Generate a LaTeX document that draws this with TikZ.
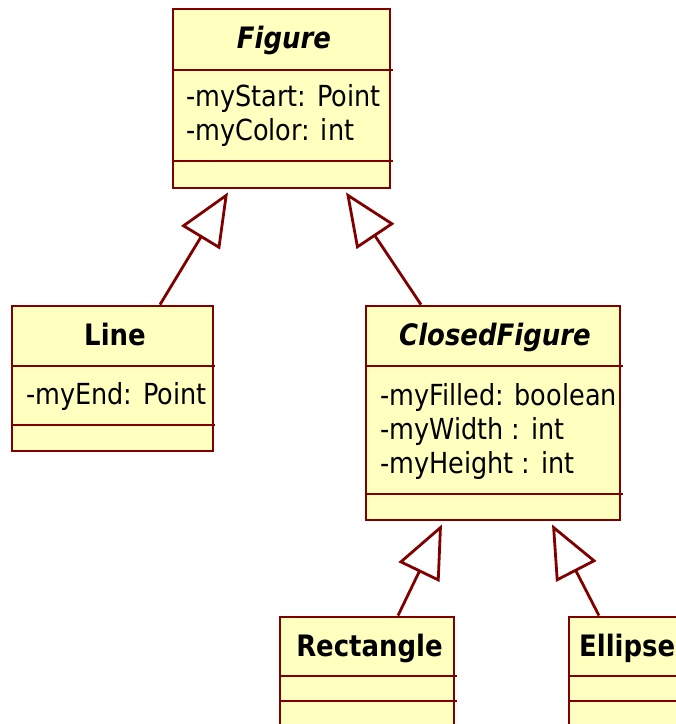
\documentclass[tikz,border=0pt]{standalone}
\usepackage{fontspec}
\setmainfont[FakeStretch=0.88]{DejaVu Sans}
\usetikzlibrary{arrows.meta,positioning,calc}
\definecolor{umlred}{HTML}{800000}
\definecolor{umlfill}{HTML}{FFFFC0}
\begin{document}
\begin{tikzpicture}[x=1pt,y=-1pt,font=\fontsize{29}{34}\selectfont,
 cls/.style={draw=umlred,line width=2.8pt,fill=umlfill,inner sep=0pt},
 sepline/.style={draw=umlred,line width=2.8pt},
 ttl/.style={inner sep=0pt,font=\fontsize{29.5}{34}\selectfont\bfseries},
 abs/.style={inner sep=0pt,font=\fontsize{29.5}{34}\selectfont\bfseries\itshape},
 att/.style={anchor=west,align=left,inner sep=0pt},
 inh/.style={draw=umlred,line width=2.8pt,-{Triangle[open,length=53pt,width=45pt]}}]
\useasboundingbox (0,0) rectangle (676,724);
\clip (0,0) rectangle (676,724);
% class boxes
\node[cls,minimum width=217pt,minimum height=179pt] (figure) at (281.5,98.5) {};
\node[cls,minimum width=201pt,minimum height=145pt] (line) at (112.5,378.5) {};
\node[cls,minimum width=254pt,minimum height=214pt] (closed) at (493,413) {};
\node[cls,minimum width=174pt,minimum height=143pt] (rect) at (367,688.5) {};
\node[cls,minimum width=123pt,minimum height=143pt] (ellipse) at (630.5,688.5) {};
\foreach \xa/\xb/\yy in {173/393/70,173/393/161,12/215/366,12/215/425,366/623/366,366/623/494,280/457/676,280/457/701,569/695/676,569/695/701}
  \draw[sepline] (\xa,\yy) -- (\xb,\yy);
% texts
\node[abs] (figureT) at (284,40) {Figure};
\node[att] (figureA) at (186,115) {-myStart: Point\\-myColor: int};
\node[ttl] (lineT) at (115,334) {Line};
\node[att] (lineA) at (26,396.5) {-myEnd: Point};
\node[abs] (closedT) at (495,337.5) {ClosedFigure};
\node[att] (closedA) at (380,431) {-myFilled: boolean\\-myWidth : int\\-myHeight : int};
\node[ttl] (rectT) at (369.5,648.5) {Rectangle};
\node[ttl,anchor=west] (ellipseT) at (579,648.5) {Ellipse};
% generalisations
\draw[inh] ([xshift=47.5pt]line.north) -- ([xshift=-53.5pt,yshift=-3pt]figure.south);
\draw[inh] ([xshift=-72pt]closed.north) -- ([xshift=64.5pt,yshift=-3pt]figure.south);
\draw[inh] ([xshift=31pt]rect.north) -- ([xshift=-51pt,yshift=-3pt]closed.south);
\draw[inh] ([xshift=-31.5pt]ellipse.north) -- ([xshift=59pt,yshift=-3pt]closed.south);
\end{tikzpicture}
\end{document}
